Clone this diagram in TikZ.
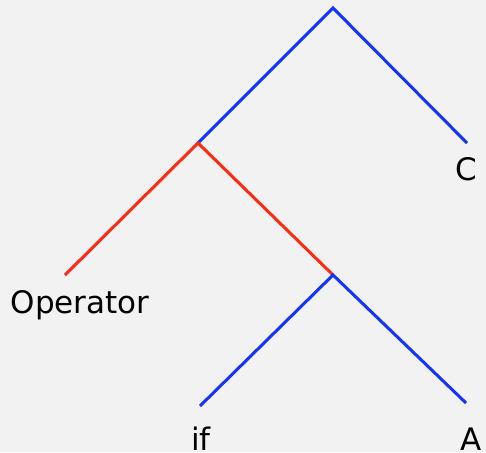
\documentclass[tikz,border=0pt]{standalone}
\usepackage{fontspec}
\setmainfont{DejaVu Sans}
\definecolor{bg}{HTML}{F2F2F2}
\definecolor{tblue}{HTML}{1433FF}
\definecolor{tred}{HTML}{FF2A14}
\begin{document}
\begin{tikzpicture}[x=1pt,y=-1pt,
  edgeblue/.style={draw=tblue,line width=3pt},
  edgered/.style={draw=tred,line width=3pt},
  lbl/.style={anchor=base,inner sep=0pt,font=\fontsize{31}{36}\selectfont}]
\fill[bg] (0,0) rectangle (486,452);
\useasboundingbox (0,0) rectangle (486,452);
\coordinate (root) at (333,8);
\coordinate (cend) at (467,143);
\coordinate (n1) at (198,143);
\coordinate (opend) at (65,275);
\coordinate (n2) at (333,275);
\coordinate (ifend) at (200,406);
\coordinate (aend) at (466,403);
\node[lbl] (c) at (466,180) {C};
\node[lbl] (op) at (80,313) {Operator};
\node[lbl] (if) at (201,450) {if};
\node[lbl] (a) at (471,450) {A};
\draw[edgeblue] (n1) -- (root) -- (cend);
\draw[edgered] (opend) -- (n1) -- (n2);
\draw[edgeblue] (ifend) -- (n2) -- (aend);
\end{tikzpicture}
\end{document}
